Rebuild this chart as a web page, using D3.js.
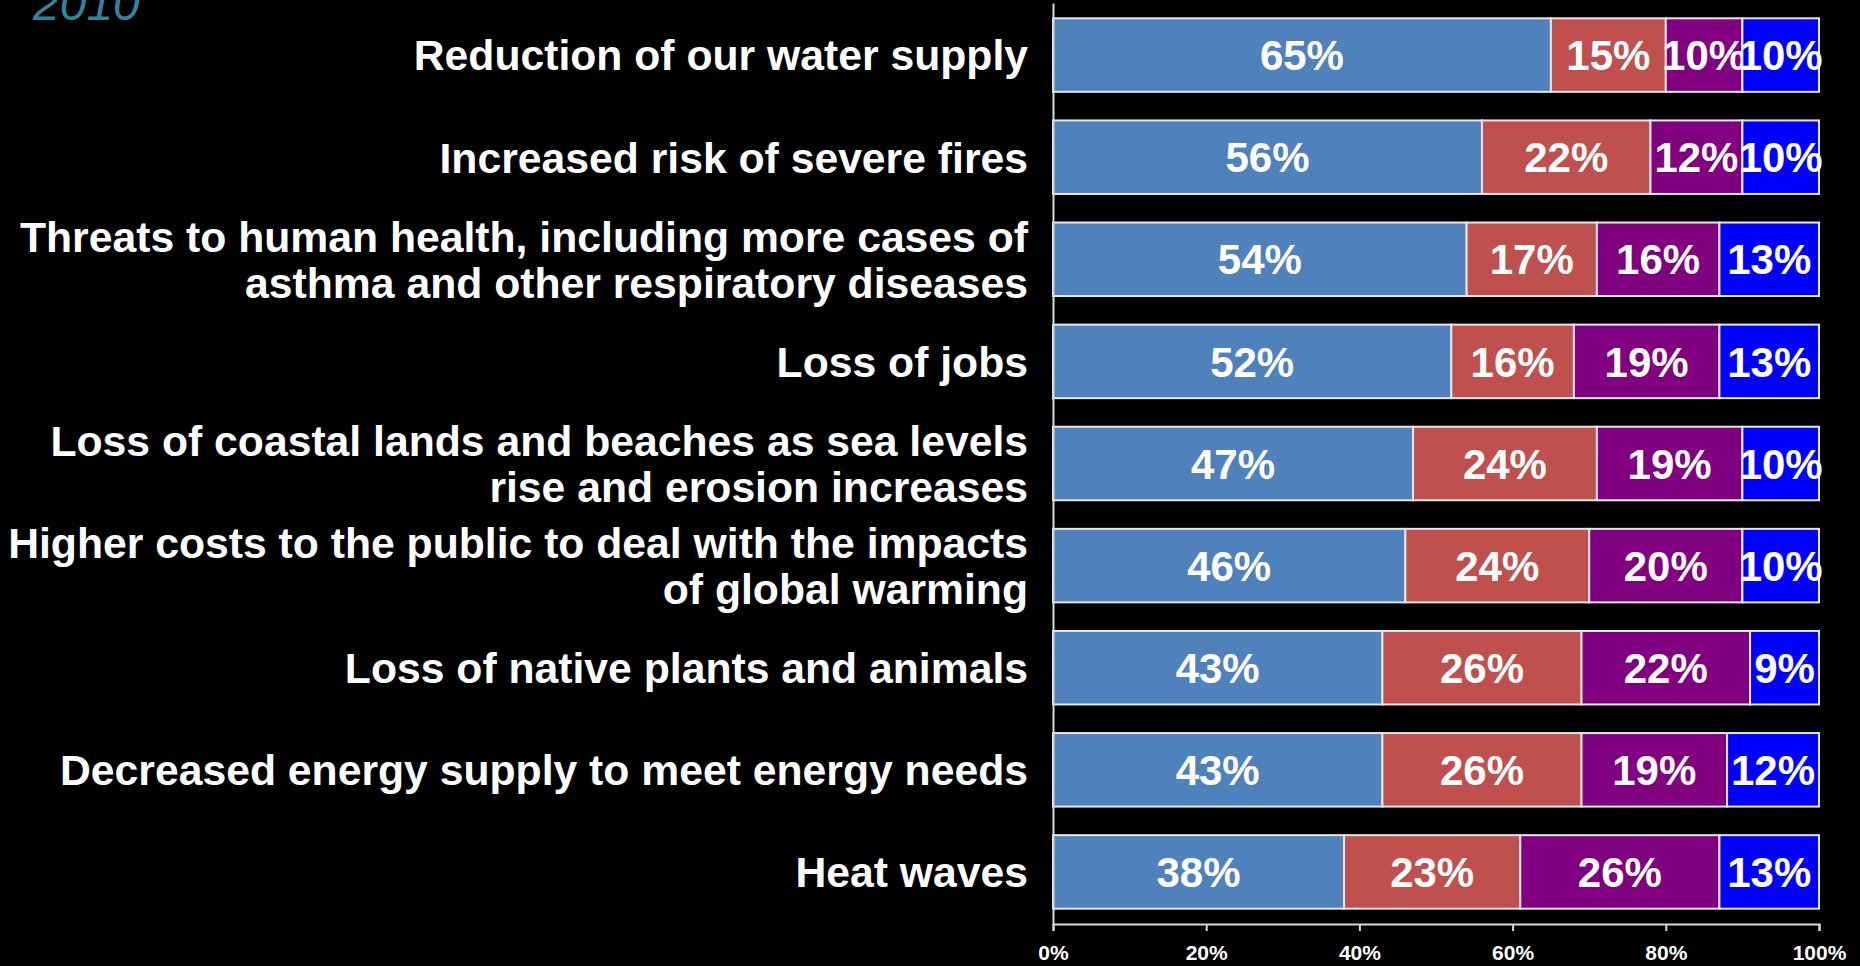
<!DOCTYPE html>
<html>
<head>
<meta charset="utf-8">
<script src="https://cdn.jsdelivr.net/npm/d3@7"></script>
<style>
  html, body { margin: 0; padding: 0; background: #000; overflow: hidden; }
  svg { display: block; }
</style>
</head>
<body>
<div id="chart"></div>
<script>
// Stacked 100% bar chart - concern about impacts, 2010
const width = 1860;
const height = 966;

const categories = [
  ["Reduction of our water supply"],
  ["Increased risk of severe fires"],
  ["Threats to human health, including more cases of", "asthma and other respiratory diseases"],
  ["Loss of jobs"],
  ["Loss of coastal lands and beaches as sea levels", "rise and erosion increases"],
  ["Higher costs to the public to deal with the impacts", "of global warming"],
  ["Loss of native plants and animals"],
  ["Decreased energy supply to meet energy needs"],
  ["Heat waves"]
];

const seriesNames = ["Very concerned", "Somewhat concerned", "Not too concerned", "Not at all concerned"];
const seriesColors = ["#4F81BD", "#C0504D", "#800080", "#0000FF"];

const veryValues      = [65, 56, 54, 52, 47, 46, 43, 43, 38];
const somewhatValues  = [15, 22, 17, 16, 24, 24, 26, 26, 23];
const notTooValues    = [10, 12, 16, 19, 19, 20, 22, 19, 26];
const notAtAllValues  = [10, 10, 13, 13, 10, 10,  9, 12, 13];

const tickValues = [0, 20, 40, 60, 80, 100];
const yearLabel = "2010";

const fontFamily = "'Liberation Sans', Arial, Helvetica, sans-serif";

// build rows for the stack
const keys = categories.map(c => c.join(" "));
const rows = keys.map((k, i) => ({
  category: k,
  lines: categories[i],
  [seriesNames[0]]: veryValues[i],
  [seriesNames[1]]: somewhatValues[i],
  [seriesNames[2]]: notTooValues[i],
  [seriesNames[3]]: notAtAllValues[i]
}));

const stacked = d3.stack().keys(seriesNames)(rows);

const svg = d3.select("#chart")
  .append("svg")
  .attr("width", width)
  .attr("height", height)
  .style("background", "#000");

// Scales
const x = d3.scaleLinear()
  .domain([0, 100])
  .range([1053, 1819]);

const y = d3.scaleBand()
  .domain(keys)
  .range([3, 924])
  .paddingInner(0.28)
  .paddingOuter(0.15);

const color = d3.scaleOrdinal()
  .domain(seriesNames)
  .range(seriesColors);

// Bars
const layers = svg.append("g")
  .selectAll("g")
  .data(stacked)
  .join("g")
  .attr("fill", d => color(d.key));

layers.selectAll("rect")
  .data(d => d)
  .join("rect")
  .attr("x", d => x(d[0]))
  .attr("y", d => y(d.data.category))
  .attr("width", d => x(d[1]) - x(d[0]))
  .attr("height", y.bandwidth())
  .attr("stroke", "#e6e6e6")
  .attr("stroke-width", 2);

// Value labels inside the segments
layers.selectAll("text")
  .data(d => d)
  .join("text")
  .attr("x", d => (x(d[0]) + x(d[1])) / 2)
  .attr("y", d => y(d.data.category) + y.bandwidth() / 2)
  .attr("dy", "0.36em")
  .attr("text-anchor", "middle")
  .style("font-family", fontFamily)
  .style("font-size", "42px")
  .style("font-weight", "bold")
  .style("fill", "#fff")
  .text(d => (d[1] - d[0]) + "%");

// Y axis (domain line only), labels drawn separately for the wrapping
const yAxis = svg.append("g")
  .attr("transform", `translate(${x(0)},0)`)
  .call(d3.axisLeft(y).tickSize(0).tickFormat(""));

yAxis.select(".domain")
  .attr("stroke", "#d9d9d9")
  .attr("stroke-width", 2);

const lineGap = 46;
svg.append("g")
  .selectAll("text")
  .data(rows)
  .join("text")
  .attr("text-anchor", "end")
  .style("font-family", fontFamily)
  .style("font-size", "42.7px")
  .style("font-weight", "bold")
  .style("fill", "#fff")
  .each(function(d) {
    const cy = y(d.category) + y.bandwidth() / 2;
    const start = cy - (d.lines.length - 1) * lineGap / 2;
    d3.select(this).selectAll("tspan")
      .data(d.lines)
      .join("tspan")
      .attr("x", 1028)
      .attr("y", (l, i) => start + i * lineGap)
      .attr("dy", "0.36em")
      .text(l => l);
  });

// X axis
const xAxis = svg.append("g")
  .attr("transform", `translate(0,924)`)
  .call(d3.axisBottom(x)
    .tickValues(tickValues)
    .tickSize(7)
    .tickPadding(14)
    .tickFormat(d => d + "%"));

xAxis.select(".domain")
  .attr("stroke", "#d9d9d9")
  .attr("stroke-width", 2);

xAxis.selectAll(".tick line")
  .attr("stroke", "#d9d9d9")
  .attr("stroke-width", 2);

xAxis.selectAll(".tick text")
  .style("font-family", fontFamily)
  .style("font-size", "21px")
  .style("font-weight", "bold")
  .style("fill", "#fff");

// Year label, partly cut off at the top
svg.append("text")
  .attr("x", 33)
  .attr("y", 20)
  .style("font-family", fontFamily)
  .style("font-size", "48px")
  .style("font-style", "italic")
  .style("fill", "#31849B")
  .text(yearLabel);
</script>
</body>
</html>
